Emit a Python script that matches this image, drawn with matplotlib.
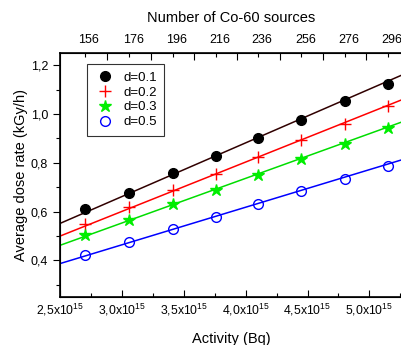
import numpy as np
import matplotlib
matplotlib.use('Agg')
import matplotlib.pyplot as plt
import matplotlib.transforms as mtransforms
from matplotlib.ticker import MultipleLocator, FuncFormatter

plt.rcParams['font.family'] = ['Liberation Sans', 'DejaVu Sans']
plt.rcParams['mathtext.fontset'] = 'custom'
plt.rcParams['mathtext.rm'] = 'Liberation Sans'
plt.rcParams['mathtext.it'] = 'Liberation Sans'

# ============================
# Datos
# ============================
activity = [2.70e15, 3.06e15, 3.41e15, 3.76e15, 4.10e15, 4.45e15, 4.80e15, 5.15e15]
sources = [156, 176, 196, 216, 236, 256, 276, 296]

dose_d01 = [0.611, 0.677, 0.759, 0.827, 0.902, 0.977, 1.052, 1.122]
dose_d02 = [0.550, 0.619, 0.687, 0.756, 0.825, 0.893, 0.961, 1.033]
dose_d03 = [0.502, 0.565, 0.630, 0.690, 0.752, 0.814, 0.878, 0.943]
dose_d05 = [0.422, 0.475, 0.528, 0.577, 0.630, 0.684, 0.735, 0.788]

labels = ['d=0.1', 'd=0.2', 'd=0.3', 'd=0.5']

# Rectas de ajuste: valor en 2.5e15 Bq y pendiente por 1e15 Bq
fit_at_start = [0.551, 0.499, 0.461, 0.386]
fit_slope = [0.2207, 0.2028, 0.1835, 0.1544]

# ============================
# Figura
# ============================
fig = plt.figure(figsize=(4.01, 3.45), dpi=100)
ax = fig.add_axes([0.1496, 0.140, 0.855, 0.7055])

x0, x1 = 2.5e15, 5.27e15
xfit = np.array([x0, x1])

series = [
    (dose_d01, dict(marker='o', color='black', mfc='black', ms=7, ls='none'), '#300000'),
    (dose_d02, dict(marker='+', color='#ff0000', ms=8, mew=1.0, ls='none'), '#ff0000'),
    (dose_d03, dict(marker='*', color='#00ee00', mfc='#00ee00', ms=9, ls='none'), '#00dd00'),
    (dose_d05, dict(marker='o', color='#0000ff', mfc='none', ms=7, mew=1.0, ls='none'), '#0000ff'),
]

for (vals, style, lcol), lab, b, m in zip(series, labels, fit_at_start, fit_slope):
    ax.plot(activity, vals, label=lab, **style)
    ax.plot(xfit, b + m * (xfit - x0) / 1e15, color=lcol, lw=1.1, zorder=1)

ax.set_xlim(x0, x1)
ax.set_ylim(0.25, 1.25)

# Ticks eje x inferior
ax.xaxis.set_major_locator(MultipleLocator(0.5e15))
ax.xaxis.set_minor_locator(MultipleLocator(0.25e15))
def fmt_x(v, pos):
    m = v / 1e15
    return (r'%.1f' % m).replace('.', ',') + r'x10$^{15}$'
ax.xaxis.set_major_formatter(FuncFormatter(fmt_x))

# Ticks eje y
ax.yaxis.set_major_locator(MultipleLocator(0.2))
ax.yaxis.set_minor_locator(MultipleLocator(0.1))
ax.yaxis.set_major_formatter(FuncFormatter(lambda v, p: ('%.1f' % v).replace('.', ',')))

ax.tick_params(axis='x', which='both', direction='in', top=False, labelsize=8.8)
ax.tick_params(axis='x', which='major', length=5, width=0.8)
ax.tick_params(axis='x', which='minor', length=3, width=0.8)
ax.tick_params(axis='y', which='both', direction='out', right=False, labelsize=9)
ax.tick_params(axis='y', which='major', length=5, width=0.8)
ax.tick_params(axis='y', which='minor', length=3, width=0.8)

for s in ax.spines.values():
    s.set_linewidth(1.2)

ax.set_xlabel('Activity (Bq)', fontsize=10.5, labelpad=10)
ax.set_ylabel('Average dose rate (kGy/h)', fontsize=10.5, labelpad=2)

# Eje superior: número de fuentes
ax_top = ax.twiny()
ax_top.set_xlim(ax.get_xlim())
mids = [(activity[i] + activity[i + 1]) / 2 for i in range(len(activity) - 1)]
ax_top.set_xticks(mids)
ax_top.set_xticklabels([])
ax_top.set_xticks(activity, minor=True)
ax_top.set_xticklabels([str(n) for n in sources], minor=True)
ax_top.tick_params(axis='x', which='both', direction='in', labelsize=9, pad=5)
ax_top.tick_params(axis='x', which='major', length=5, width=0.8)
ax_top.tick_params(axis='x', which='minor', length=3, width=0.8)
ax_top.set_xlabel('Number of Co-60 sources', fontsize=10.5, labelpad=9)
shift = mtransforms.ScaledTranslation(4 / 100, 0, fig.dpi_scale_trans)
for t in ax_top.get_xticklabels(minor=True):
    t.set_transform(t.get_transform() + shift)

leg = ax.legend(loc='upper left', bbox_to_anchor=(0.079, 0.955), fontsize=9.5,
                frameon=True, fancybox=False, edgecolor='black', handletextpad=0.6,
                borderpad=0.55, labelspacing=0.2, handlelength=1.6, borderaxespad=0)
leg.get_frame().set_linewidth(0.8)

fig.savefig('out.png', dpi=100)
